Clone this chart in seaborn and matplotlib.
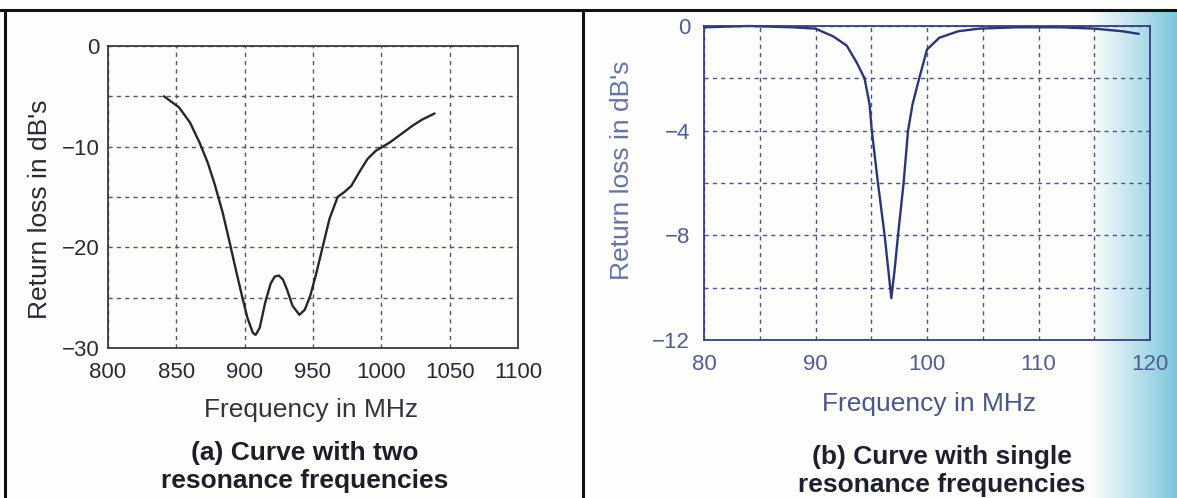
import numpy as np
import matplotlib.pyplot as plt
import pandas as pd
import seaborn as sns
from matplotlib.lines import Line2D
from matplotlib.colors import LinearSegmentedColormap

# (a) two resonance frequencies
freq_a = [841, 846, 852, 860, 867, 873, 878, 884, 889, 894, 898, 902, 906, 908,
          911, 915, 919, 922, 925, 928, 931, 935, 940, 944, 948, 952, 957, 962,
          968, 973, 978, 984, 990, 996, 1001, 1006, 1011, 1017, 1023, 1030, 1039]
loss_a = [-5.0, -5.5, -6.1, -7.6, -9.6, -11.6, -13.7, -16.6, -19.5, -22.5, -24.8,
          -27.0, -28.5, -28.7, -28.0, -25.5, -23.6, -22.9, -22.8, -23.2, -24.2,
          -25.8, -26.7, -26.2, -24.8, -22.8, -20.0, -17.2, -15.0, -14.5, -13.9,
          -12.5, -11.2, -10.4, -10.0, -9.6, -9.1, -8.5, -7.9, -7.3, -6.7]

# (b) single resonance frequency
freq_b = [80, 84, 88, 90, 91.6, 92.8, 93.7, 94.4, 94.85, 95.05, 95.6, 96.2, 96.8,
          97.1, 97.4, 97.9, 98.3, 98.7, 99.3, 100, 101.1, 102.8, 104.7, 108, 112,
          115, 117.5, 119]
loss_b = [-0.05, 0.0, -0.05, -0.1, -0.4, -0.75, -1.4, -2.0, -3.0, -4.0, -6.0, -8.0,
          -10.4, -9.3, -8.0, -6.0, -4.0, -3.0, -2.0, -0.9, -0.45, -0.2, -0.1, -0.05,
          -0.05, -0.1, -0.2, -0.3]

xticks_a = [800, 850, 900, 950, 1000, 1050, 1100]
yticks_a = [-30, -20, -10, 0]
ygrid_a = [-25, -15, -5]
xticks_b = [80, 90, 100, 110, 120]
xgrid_b = [85, 95, 105, 115]
yticks_b = [-12, -8, -4, 0]
ygrid_b = [-10, -6, -2]

ylabel = "Return loss in dB's"
xlabel = "Frequency in MHz"
caption_a = "(a) Curve with two\nresonance frequencies"
caption_b = "(b) Curve with single\nresonance frequencies"

sns.set_theme(style="white")
plt.rcParams['font.family'] = ['Liberation Sans', 'DejaVu Sans']

W, H = 1177, 498
fig = plt.figure(figsize=(W / 100, H / 100), dpi=100)
fig.patch.set_facecolor('#fdfdfb')

# faint scan tint at the right edge
bg = fig.add_axes([0.925, 0, 0.075, 0.98], zorder=-5)
cmap = LinearSegmentedColormap.from_list('scan', ['#fdfdfb', '#bfe3ee', '#7cc5dc'])
bg.imshow(np.tile(np.linspace(0, 1, 100), (10, 1)), cmap=cmap, aspect='auto')
bg.axis('off')


def style_axes(ax, text_col, spine_col, grid_col, ypad):
    for s in ax.spines.values():
        s.set_color(spine_col)
        s.set_linewidth(1.3)
    ax.set_facecolor('none')
    ax.grid(True, which='both', color=grid_col, linestyle=(0, (3, 3)), linewidth=1.0)
    ax.tick_params(which='both', direction='in', length=3, color=spine_col,
                   labelsize=16, labelcolor=text_col)
    ax.tick_params(axis='x', pad=10)
    ax.tick_params(axis='y', pad=ypad)
    ax.set_xlabel('')
    ax.set_ylabel('')


# ---- panel (a) ----
ax1 = fig.add_axes([108 / W, 1 - 348 / H, 410 / W, 302 / H])
df_a = pd.DataFrame({'freq': freq_a, 'loss': loss_a})
sns.lineplot(data=df_a, x='freq', y='loss', ax=ax1, color='#26262e', linewidth=1.7)
ax1.set_xlim(800, 1100)
ax1.set_ylim(-30, 0)
ax1.set_xticks(xticks_a)
ax1.set_yticks(yticks_a)
ax1.set_yticks(ygrid_a, minor=True)
ax1.set_yticklabels(['\u221230', '\u221220', '\u221210', '0'])
style_axes(ax1, '#2a2a36', '#3a3a44', '#55555e', 6)
ax1.set_ylabel(ylabel, fontsize=19, color='#2a2a36')
ax1.yaxis.set_label_coords(-0.137, 0.46)

fig.text(311 / W, 1 - 410 / H, xlabel, fontsize=19, color='#33333f',
         ha='center', va='center')
fig.text(305 / W, 1 - 467 / H, caption_a, fontsize=19, fontweight='bold',
         color='#1e1e28', ha='center', va='center', linespacing=1.2)

# ---- panel (b) ----
ax2 = fig.add_axes([704 / W, 1 - 340 / H, 446 / W, 314 / H])
df_b = pd.DataFrame({'freq': freq_b, 'loss': loss_b})
sns.lineplot(data=df_b, x='freq', y='loss', ax=ax2, color='#2b3677', linewidth=1.7)
for ln in ax2.lines:
    ln.set_clip_on(False)
ax2.set_xlim(80, 120)
ax2.set_ylim(-12, 0)
ax2.set_xticks(xticks_b)
ax2.set_xticks(xgrid_b, minor=True)
ax2.set_yticks(yticks_b)
ax2.set_yticks(ygrid_b, minor=True)
ax2.set_yticklabels(['\u221212', '\u22128', '\u22124', '0'])
style_axes(ax2, '#4f5d94', '#34407e', '#4a5488', 10)
ax2.set_ylabel(ylabel, fontsize=19, color='#6573a6')
ax2.yaxis.set_label_coords(-0.157, 0.54)

fig.text(929 / W, 1 - 404 / H, xlabel, fontsize=19, color='#4a5688',
         ha='center', va='center')
fig.text(942 / W, 1 - 471 / H, caption_b, fontsize=19, fontweight='bold',
         color='#1e2030', ha='center', va='center', linespacing=1.2)

# scan frame lines
for xs, ys in [([0, 1], [1 - 10 / H, 1 - 10 / H]),
               ([5 / W, 5 / W], [0, 1 - 10 / H]),
               ([583 / W, 583 / W], [0, 1 - 10 / H])]:
    fig.add_artist(Line2D(xs, ys, transform=fig.transFigure, color='#111111', linewidth=2.2))

fig.savefig('out.png', dpi=100)
